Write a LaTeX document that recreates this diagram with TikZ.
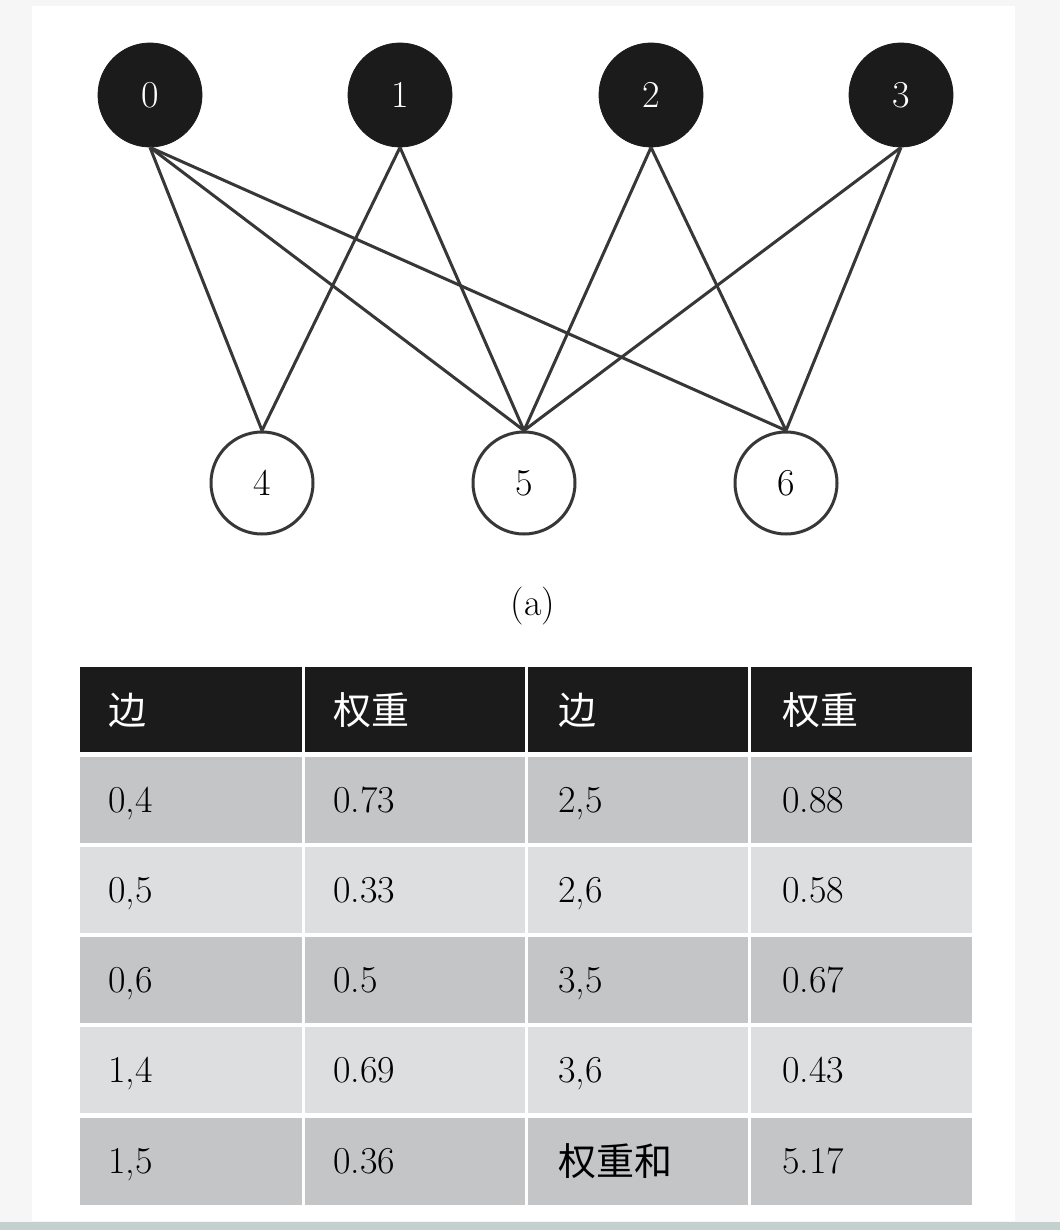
\documentclass[tikz,border=0pt]{standalone}
\usepackage{fontspec}
\newfontfamily\cjk{Noto Sans CJK SC}
\definecolor{headfill}{RGB}{28,27,28}
\definecolor{darkrow}{RGB}{196,197,199}
\definecolor{lightrow}{RGB}{221,222,224}
\definecolor{edgegray}{RGB}{55,55,55}
\definecolor{framegray}{RGB}{246,246,246}
\definecolor{bandgray}{RGB}{196,208,206}
\begin{document}
\begin{tikzpicture}[x=0.5pt,y=-0.5pt,
	upper/.style={circle,fill=headfill,draw=headfill,minimum size=52pt,inner sep=0pt,text=white,font=\fontsize{19}{20}\selectfont},
	lower/.style={circle,fill=white,draw=edgegray,line width=1.5pt,minimum size=51pt,inner sep=0pt,font=\fontsize{19}{20}\selectfont},
	link/.style={draw=edgegray,line width=1.5pt},
	celltext/.style={anchor=base west,inner sep=0pt,font=\fontsize{19}{20}\selectfont},
	]
	\useasboundingbox (0,0) rectangle (1060,1230);
	\fill[framegray] (0,0) rectangle (1060,1230);
	\fill[white] (32,6) rectangle (1015,1221);
	\fill[bandgray] (0,1222) rectangle (1060,1230);
	
	% graph
	\node[upper] (n0) at (150,95) {0};
	\node[upper] (n1) at (400,95) {1};
	\node[upper] (n2) at (651,95) {2};
	\node[upper] (n3) at (901,95) {3};
	\node[lower] (n4) at (262,483) {4};
	\node[lower] (n5) at (524,483) {5};
	\node[lower] (n6) at (786,483) {6};
	\foreach \a/\b in {0/4,0/5,0/6,1/4,1/5,2/5,2/6,3/5,3/6}
		\draw[link] (n\a.south) -- (n\b.north);
	\node[font=\fontsize{19}{20}\selectfont] (cap) at (533,606) {(a)};
	
	% table
	\fill[headfill] (80,667) rectangle (302,752);
	\fill[headfill] (305,667) rectangle (525,752);
	\fill[headfill] (528,667) rectangle (748,752);
	\fill[headfill] (751,667) rectangle (972,752);
	\foreach \y/\h/\c in {757/843/darkrow,847/933/lightrow,937/1023/darkrow,1027/1113/lightrow,1118/1205/darkrow}{
		\fill[\c] (80,\y) rectangle (302,\h);
		\fill[\c] (305,\y) rectangle (525,\h);
		\fill[\c] (528,\y) rectangle (748,\h);
		\fill[\c] (751,\y) rectangle (972,\h);
	}
	\node[celltext,text=white] (h1) at (108,724) {\cjk 边};
	\node[celltext,text=white] (h2) at (333,724) {\cjk 权重};
	\node[celltext,text=white] (h3) at (558,724) {\cjk 边};
	\node[celltext,text=white] (h4) at (782,724) {\cjk 权重};
	
	\node[celltext] (e1) at (108,812) {0,4};
	\node[celltext] (w1) at (333,812) {0.73};
	\node[celltext] (e6) at (558,812) {2,5};
	\node[celltext] (w6) at (782,812) {0.88};
	
	\node[celltext] (e2) at (108,902) {0,5};
	\node[celltext] (w2) at (333,902) {0.33};
	\node[celltext] (e7) at (558,902) {2,6};
	\node[celltext] (w7) at (782,902) {0.58};
	
	\node[celltext] (e3) at (108,992) {0,6};
	\node[celltext] (w3) at (333,992) {0.5};
	\node[celltext] (e8) at (558,992) {3,5};
	\node[celltext] (w8) at (782,992) {0.67};
	
	\node[celltext] (e4) at (108,1082) {1,4};
	\node[celltext] (w4) at (333,1082) {0.69};
	\node[celltext] (e9) at (558,1082) {3,6};
	\node[celltext] (w9) at (782,1082) {0.43};
	
	\node[celltext] (e5) at (108,1173) {1,5};
	\node[celltext] (w5) at (333,1173) {0.36};
	\node[celltext] (sum) at (558,1175) {\cjk 权重和};
	\node[celltext] (tot) at (782,1173) {5.17};
\end{tikzpicture}
\end{document}
